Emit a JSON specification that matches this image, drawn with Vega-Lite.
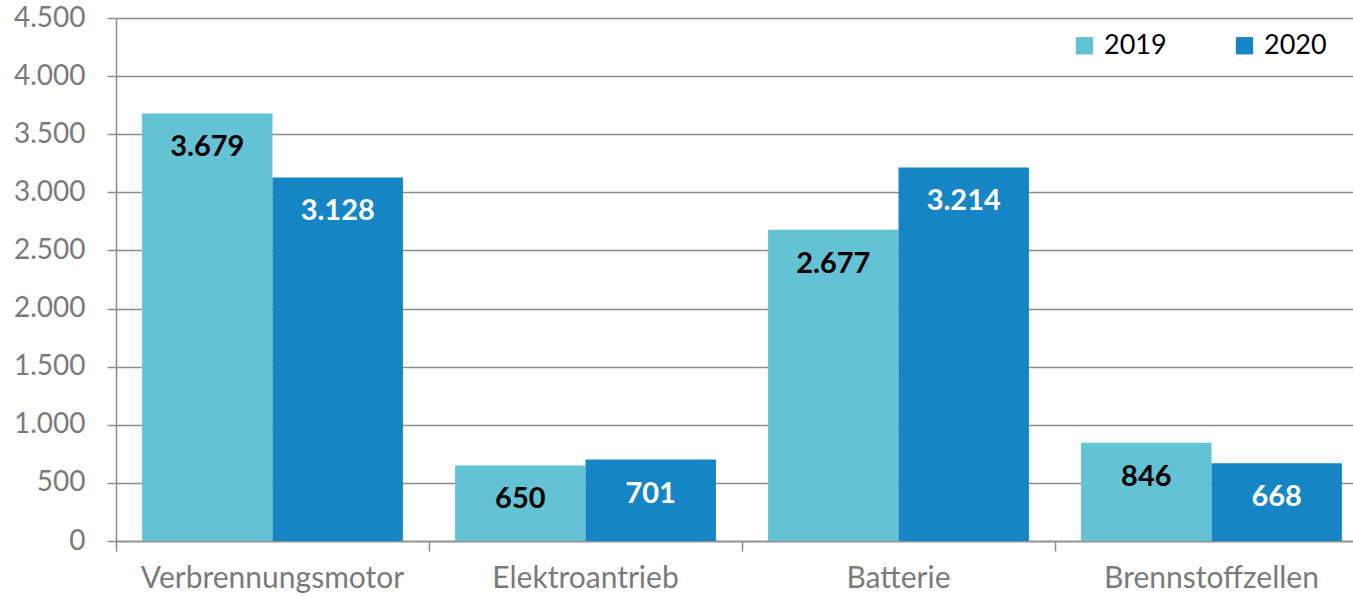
{
  "$schema": "https://vega.github.io/schema/vega-lite/v6.json",
  "autosize": {"type": "none"},
  "padding": {"left": 116, "top": 18, "right": 0, "bottom": 55},
  "width": 1252,
  "height": 523,
  "background": "white",
  "config": {
    "view": {"stroke": null},
    "font": "Lato",
    "locale": {"number": {"decimal": ",", "thousands": ".", "grouping": [3], "currency": ["", " €"]}}
  },
  "data": {
    "values": [
      {"category": "Verbrennungsmotor", "year": "2019", "value": 3679},
      {"category": "Verbrennungsmotor", "year": "2020", "value": 3128},
      {"category": "Elektroantrieb", "year": "2019", "value": 650},
      {"category": "Elektroantrieb", "year": "2020", "value": 701},
      {"category": "Batterie", "year": "2019", "value": 2677},
      {"category": "Batterie", "year": "2020", "value": 3214},
      {"category": "Brennstoffzellen", "year": "2019", "value": 846},
      {"category": "Brennstoffzellen", "year": "2020", "value": 668}
    ]
  },
  "encoding": {
    "x": {
      "field": "category", "type": "nominal", "sort": null,
      "scale": {"paddingInner": 0, "paddingOuter": 0},
      "axis": {
        "title": null, "labelAngle": 0, "bandPosition": 0, "labelLimit": 0,
        "labelFontSize": 30, "labelColor": "#7a7a7a", "labelPadding": 12,
        "tickSize": 10, "tickColor": "#8c8c8c", "tickWidth": 1.5,
        "domainColor": "#8c8c8c", "domainWidth": 1.5, "labelFont": "Lato"
      }
    },
    "xOffset": {"field": "year", "type": "nominal", "scale": {"paddingInner": 0, "paddingOuter": 0.2}},
    "y": {
      "field": "value", "type": "quantitative",
      "scale": {"domain": [0, 4500], "nice": false},
      "axis": {
        "title": null, "values": [0, 500, 1000, 1500, 2000, 2500, 3000, 3500, 4000, 4500],
        "format": ",d", "labelFontSize": 28, "labelColor": "#7a7a7a", "labelPadding": 22,
        "tickSize": 9, "tickColor": "#8c8c8c", "tickWidth": 1.5,
        "gridColor": "#8c8c8c", "gridWidth": 1.5,
        "domainColor": "#8c8c8c", "domainWidth": 1.5
      }
    }
  },
  "layer": [
    {
      "mark": {"type": "bar"},
      "encoding": {
        "color": {
          "field": "year", "type": "nominal",
          "scale": {"domain": ["2019", "2020"], "range": ["#63c2d4", "#1585c5"]},
          "legend": {
            "title": null, "orient": "none", "legendX": 955, "legendY": 14,
            "direction": "horizontal", "symbolType": "square", "symbolSize": 300,
            "symbolStrokeWidth": 0, "symbolOpacity": 1,
            "labelFontSize": 27, "labelColor": "black", "labelOffset": 6,
            "columnPadding": 64
          }
        }
      }
    },
    {
      "mark": {"type": "text", "baseline": "middle", "dy": 34, "fontSize": 29, "fontWeight": "bold"},
      "encoding": {
        "text": {"field": "value", "type": "quantitative", "format": ",d"},
        "color": {"condition": {"test": "datum.year == '2019'", "value": "black"}, "value": "white"}
      }
    }
  ]
}
